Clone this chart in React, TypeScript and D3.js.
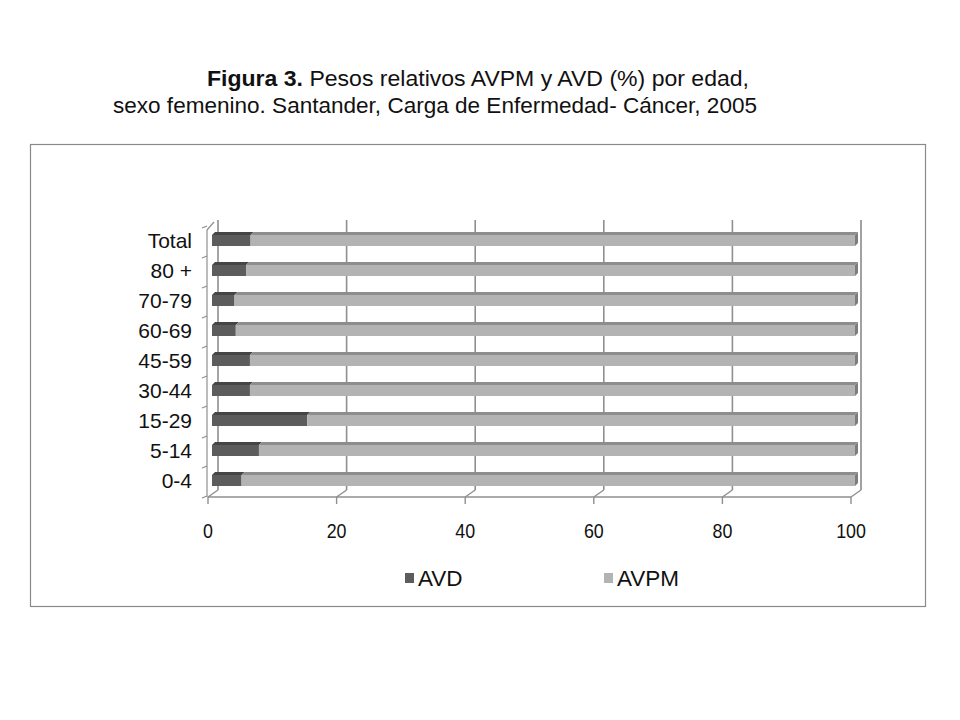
import * as d3 from "d3";

// age groups, bottom to top as drawn
const categories = ["0-4", "5-14", "15-29", "30-44", "45-59", "60-69", "70-79", "80 +", "Total"];
// AVD share (%) per group; AVPM is the remainder
const avd = [4.6, 7.3, 14.8, 5.9, 5.9, 3.7, 3.5, 5.3, 6.0];
const avpm = avd.map((v) => 100 - v);
const xTicks = [0, 20, 40, 60, 80, 100];
const seriesNames = ["AVD", "AVPM"];

const FONT = "Arial, 'Liberation Sans', Helvetica, sans-serif";

// 3d-ish geometry: back wall, floor depth, bars sit mid-depth
const W = 960;
const H = 720;
const wallTop = 220;
const wallBottom = 490;
const depthX = 10; // floor front vs back wall
const depthY = 7;
const barDX = 3; // top face offset of each bar
const barDY = 3;

export default function App(): JSX.Element {
  const xBack = d3.scaleLinear().domain([0, 100]).range([218, 861]);
  const xFront = (v: number) => xBack(v) - depthX;
  const xMid = (v: number) => xBack(v) - 6;
  const floorY = wallBottom + depthY;

  const y = d3
    .scaleBand<string>()
    .domain([...categories].reverse())
    .range([225, 495])
    .paddingInner(0)
    .paddingOuter(0);

  const grid = "#8f8f8f";
  const colors = {
    avd: { front: "#5c5c5c", top: "#454545" },
    avpm: { front: "#b3b3b3", top: "#8d8d8d", side: "#7d7d7d" },
  };

  const bars = categories.map((c, i) => {
    const cy = (y(c) ?? 0) + y.bandwidth() / 2;
    const fTop = cy - 5;
    const fBot = cy + 6;
    const x0 = xMid(0);
    const x1 = xMid(avd[i]);
    const x2 = xMid(avd[i] + avpm[i]);
    return { c, cy, fTop, fBot, x0, x1, x2 };
  });

  const boundaries = d3.range(categories.length + 1).map((i) => 225 + i * y.step());

  return (
    <svg width={W} height={H} style={{ display: "block", margin: -8 }} fontFamily={FONT}>
      <rect width={W} height={H} fill="#fff" />

      {/* title */}
      <text x={207} y={86} fontSize={22.5} fill="#111" textLength={542} lengthAdjust="spacingAndGlyphs">
        <tspan fontWeight="bold">Figura 3.</tspan>
        <tspan> Pesos relativos AVPM y AVD (%) por edad,</tspan>
      </text>
      <text x={113} y={113} fontSize={22.5} fill="#111" textLength={644} lengthAdjust="spacingAndGlyphs">
        sexo femenino. Santander, Carga de Enfermedad- Cáncer, 2005
      </text>

      {/* chart frame */}
      <rect x={30.5} y={144.5} width={895} height={462} fill="none" stroke="#8a8a8a" strokeWidth={1.2} />

      {/* back wall gridlines */}
      {xTicks.map((t) => (
        <line key={`g${t}`} x1={xBack(t)} x2={xBack(t)} y1={wallTop} y2={wallBottom} stroke={grid} strokeWidth={1.6} />
      ))}

      {/* floor */}
      <line x1={xFront(0)} x2={xFront(100)} y1={floorY} y2={floorY} stroke={grid} strokeWidth={1.6} />
      {xTicks.map((t) => (
        <g key={`f${t}`}>
          <line x1={xFront(t)} y1={floorY} x2={xBack(t)} y2={wallBottom} stroke={grid} strokeWidth={1.4} />
          <line x1={xFront(t)} y1={floorY} x2={xFront(t)} y2={floorY + 7} stroke={grid} strokeWidth={1.4} />
        </g>
      ))}

      {/* left axis */}
      <line x1={xFront(0) - 1} x2={xFront(0) - 1} y1={230} y2={floorY} stroke={grid} strokeWidth={1.2} />
      <line x1={xFront(0) - 1} y1={230} x2={xBack(0) - 4} y2={wallTop + 2} stroke={grid} strokeWidth={1.2} />
      {boundaries.map((b, i) => (
        <line key={`t${i}`} x1={xFront(0) - 6} x2={xFront(0) - 1} y1={b + 3} y2={b + 1} stroke={grid} strokeWidth={1.2} />
      ))}

      {/* bars */}
      {bars.map((b) => (
        <g key={b.c}>
          <rect x={b.x0} y={b.fTop} width={b.x1 - b.x0} height={b.fBot - b.fTop} fill={colors.avd.front} />
          <path
            d={`M${b.x0},${b.fTop}L${b.x1},${b.fTop}L${b.x1 + barDX},${b.fTop - barDY}L${b.x0 + barDX},${b.fTop - barDY}Z`}
            fill={colors.avd.top}
          />
          <rect x={b.x1} y={b.fTop} width={b.x2 - b.x1} height={b.fBot - b.fTop} fill={colors.avpm.front} />
          <path
            d={`M${b.x1},${b.fTop}L${b.x2},${b.fTop}L${b.x2 + barDX},${b.fTop - barDY}L${b.x1 + barDX},${b.fTop - barDY}Z`}
            fill={colors.avpm.top}
          />
          <path
            d={`M${b.x2},${b.fTop}L${b.x2 + barDX},${b.fTop - barDY}L${b.x2 + barDX},${b.fBot - barDY}L${b.x2},${b.fBot}Z`}
            fill={colors.avpm.side}
          />
        </g>
      ))}

      {/* right edge of the wall */}
      <line x1={xBack(100)} x2={xBack(100)} y1={wallTop} y2={wallBottom} stroke="#a0a0a0" strokeWidth={1.4} />

      {/* category labels */}
      {bars.map((b) => (
        <text key={`l${b.c}`} x={192} y={b.cy + 7.5} fontSize={21} textAnchor="end" fill="#111">
          {b.c}
        </text>
      ))}

      {/* x tick labels, slightly condensed like the source */}
      {xTicks.map((t) => (
        <text
          key={`x${t}`}
          transform={`translate(${xFront(t)},538) scale(0.85,1)`}
          fontSize={21}
          textAnchor="middle"
          fill="#111"
        >
          {t}
        </text>
      ))}

      {/* legend */}
      {seriesNames.map((s, i) => {
        const lx = i === 0 ? 405 : 604;
        return (
          <g key={s}>
            <rect x={lx} y={573} width={9} height={10} fill={i === 0 ? colors.avd.front : colors.avpm.front} />
            <text x={lx + 13} y={586} fontSize={22.5} fill="#111">
              {s}
            </text>
          </g>
        );
      })}
    </svg>
  );
}
